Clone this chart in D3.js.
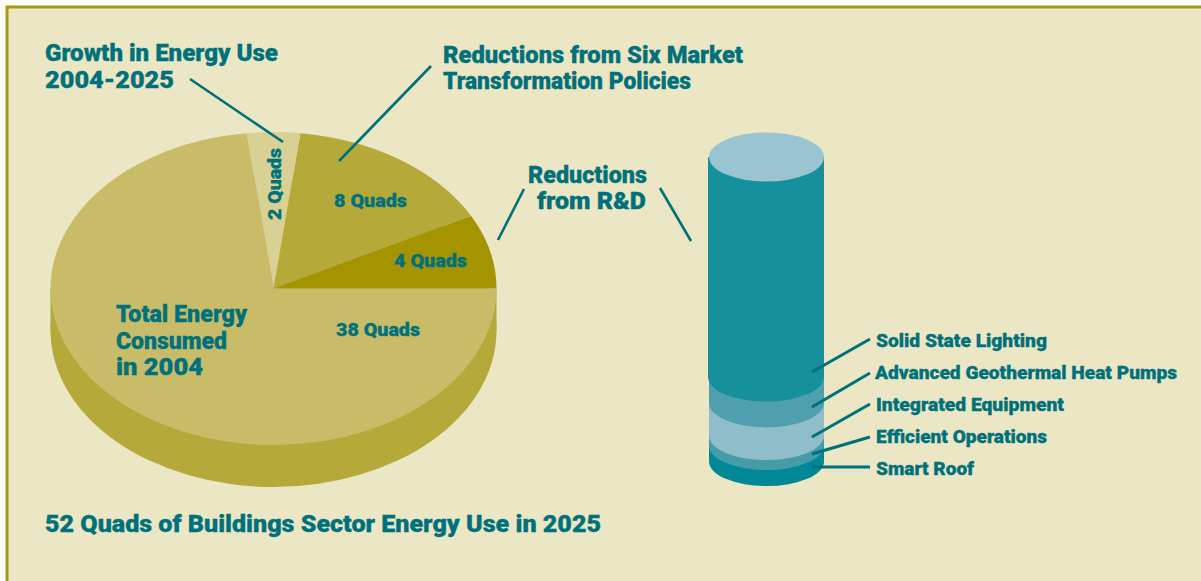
<!DOCTYPE html>
<html>
<head>
<meta charset="utf-8">
<script src="https://cdn.jsdelivr.net/npm/d3@7"></script>
<style>
html, body { margin: 0; padding: 0; background: #fff; }
svg { display: block; }
text { font-family: "Roboto", "Liberation Sans", sans-serif; font-weight: 900; fill: #00717a; stroke: #00717a; stroke-width: 0.3; }
</style>
</head>
<body>
<div id="chart"></div>
<script>
// quads of energy, going counter clockwise from the right hand side
var pieLabels = ["4 Quads", "8 Quads", "2 Quads", "38 Quads"];
var pieValues = [4, 8, 2, 38];
var pieColors = ["#a39400", "#b5a939", "#d9d093", "#c9bc69"];

// R&D reductions from the top of the cylinder to the bottom
var techNames = ["Solid State Lighting", "Advanced Geothermal Heat Pumps", "Integrated Equipment", "Efficient Operations", "Smart Roof"];
var techValues = [2.89, 0.34, 0.43, 0.13, 0.21];
var techColors = ["#17909e", "#4fa0af", "#8fbdc9", "#459ca9", "#008896"];

var width = 1201, height = 581;

var svg = d3.select("#chart").append("svg")
	.attr("width", width)
	.attr("height", height);

svg.append("rect")
	.attr("x", 7).attr("y", 7)
	.attr("width", width + 20).attr("height", height + 20)
	.attr("fill", "#ebe6c4")
	.attr("stroke", "#a89b08")
	.attr("stroke-width", 3);

// pie, flattened with a y scale
var cx = 273.5, cy = 288.5, rx = 223, ry = 156.5, depth = 42;

var pie = d3.pie().sort(null).startAngle(Math.PI / 2).endAngle(Math.PI / 2 - 2 * Math.PI);
var arc = d3.arc().innerRadius(0).outerRadius(rx);
var slices = pie(pieValues);

// rim
svg.append("ellipse")
	.attr("cx", cx).attr("cy", cy + depth)
	.attr("rx", rx).attr("ry", ry)
	.attr("fill", "#b5a939");
svg.append("rect")
	.attr("x", cx - rx).attr("y", cy)
	.attr("width", 2 * rx).attr("height", depth)
	.attr("fill", "#b5a939");

svg.append("g")
	.attr("transform", "translate(" + cx + "," + cy + ") scale(1," + (ry / rx) + ")")
	.selectAll("path")
	.data(slices)
	.enter().append("path")
	.attr("d", arc)
	.attr("fill", function(d, i){ return pieColors[i]; });

// cylinder
var cylX = 766.5, cylRx = 57.5, cylRy = 24.5, cylTop = 157, cylBottom = 461.5;

var y = d3.scaleLinear()
	.domain([0, d3.sum(techValues)])
	.range([cylTop, cylBottom]);

var stack = [];
var running = 0;
techValues.forEach(function(v, i){
	stack.push({ from: running, to: running + v, color: techColors[i], i: i });
	running += v;
});

// bottom band first, each upper band laps over the one below
svg.append("g").selectAll("path")
	.data(stack.slice().reverse())
	.enter().append("path")
	.attr("d", function(d){
		var left = cylX - cylRx - (d.i == 0 ? 1 : 0);
		var right = cylX + cylRx;
		var p = d3.path();
		p.moveTo(left, y(d.from));
		p.lineTo(left, y(d.to));
		return p.toString() + "A" + (right - left) / 2 + "," + cylRy + " 0 0 0 " + right + "," + y(d.to) + "L" + right + "," + y(d.from) + "Z";
	})
	.attr("fill", function(d){ return d.color; });

svg.append("ellipse")
	.attr("cx", cylX).attr("cy", y(0))
	.attr("rx", cylRx).attr("ry", cylRy)
	.attr("fill", "#9ac5d0");

// leader lines
var leaders = [
	[190, 79, 283, 142],
	[431, 66, 339, 161],
	[524, 189, 498, 240],
	[660, 188, 691, 241],
	[870, 339, 812, 372],
	[870, 373, 812, 407],
	[870, 404, 812, 437],
	[870, 437, 812, 454],
	[870, 467, 812, 467]
];
svg.append("g").selectAll("line")
	.data(leaders)
	.enter().append("line")
	.attr("x1", function(d){ return d[0]; })
	.attr("y1", function(d){ return d[1]; })
	.attr("x2", function(d){ return d[2]; })
	.attr("y2", function(d){ return d[3]; })
	.attr("stroke", "#00717a")
	.attr("stroke-width", function(d, i){ return i < 4 ? 2.6 : 3; });

// text, fitted to the width it has in the reference
function label(txt, x, base, size, w){
	return svg.append("text")
		.attr("x", x).attr("y", base)
		.attr("font-size", size)
		.attr("textLength", w)
		.attr("lengthAdjust", "spacingAndGlyphs")
		.text(txt);
}

label("Growth in Energy Use", 45, 61, 23, 233);
label("2004-2025", 45, 88, 23, 129);
label("Reductions from Six Market", 443, 63, 23, 300);
label("Transformation Policies", 443, 89, 23, 248);
label("Reductions", 528, 183, 23, 119);
label("from R&D", 537, 209, 23, 109);
label("Total Energy", 116, 322, 23, 131);
label("Consumed", 116, 349, 23, 111);
label("in 2004", 116, 375, 23, 87);
label("52 Quads of Buildings Sector Energy Use in 2025", 45, 532, 23.5, 556);

label(pieLabels[0], 394, 267, 18, 73);
label(pieLabels[1], 334, 207, 18, 73);
label(pieLabels[3], 336, 336, 18, 84);
svg.append("text")
	.attr("transform", "translate(281,220) rotate(-90)")
	.attr("font-size", 18)
	.attr("textLength", 72)
	.attr("lengthAdjust", "spacingAndGlyphs")
	.text(pieLabels[2]);

var techX = [876, 875, 876, 876, 876];
var techBase = [347, 379, 411, 443, 475];
var techW = [171, 302, 188, 171, 98];
techNames.forEach(function(n, i){
	label(n, techX[i], techBase[i], 18, techW[i]);
});
</script>
</body>
</html>
